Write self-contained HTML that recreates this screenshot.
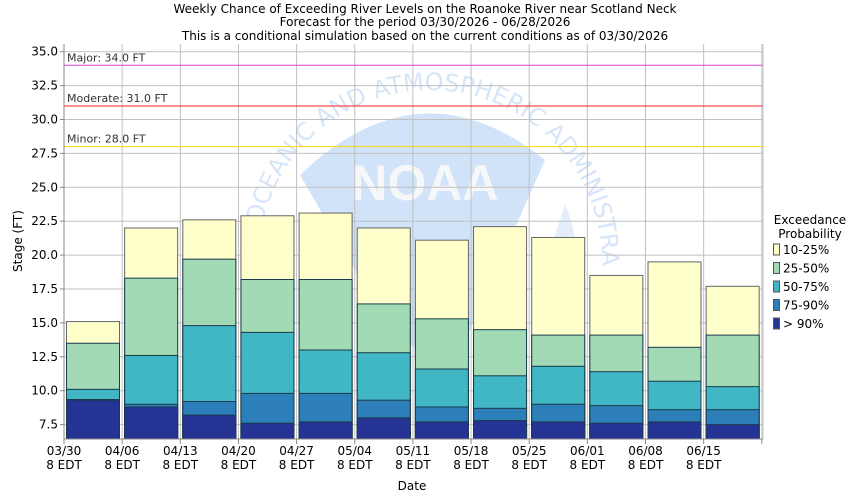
<!DOCTYPE html>
<html><head><style>body{margin:0;background:#fff}svg{display:block;font-family:"DejaVu Sans","Liberation Sans",sans-serif}</style></head>
<body>
<svg id="s" width="850" height="500" xmlns="http://www.w3.org/2000/svg">
<rect width="850" height="500" fill="#fff"/>
<g font-size="12" text-anchor="middle" fill="#000">
<text x="425" y="13">Weekly Chance of Exceeding River Levels on the Roanoke River near Scotland Neck</text>
<text x="425" y="26">Forecast for the period 03/30/2026 - 06/28/2026</text>
<text x="425" y="40">This is a conditional simulation based on the current conditions as of 03/30/2026</text>
</g>
<defs><clipPath id="c"><rect x="64" y="44" width="699" height="395"/></clipPath></defs>
<g clip-path="url(#c)">
<path d="M300,175 Q420,60 545,160 L470,330 Q430,370 390,330 Z" fill="#d0e3f8"/>
<path d="M540,280 L565,205 Q590,260 560,330 Z" fill="#e3eefa"/>
<text x="425" y="200" font-size="50" font-weight="bold" fill="#f6f7f9" text-anchor="middle" font-family="Liberation Sans,sans-serif">NOAA</text>
<path id="arc" d="M258,262 A172,172 0 0 1 602,262" fill="none"/>
<text font-size="24" fill="#d6e6f8"><textPath href="#arc">AL OCEANIC AND ATMOSPHERIC ADMINISTRATION</textPath></text>
</g>
<g id="grid" stroke="#c0c0c0" stroke-width="1"></g>
<g id="bars"></g>
<g id="axes"></g>
</svg>
<script>
var s=document.getElementById('s'),NS='http://www.w3.org/2000/svg';
function Y(v){return 51.7+(35-v)*13.56}
function el(p,t,a,txt){var e=document.createElementNS(NS,t);for(var k in a)e.setAttribute(k,a[k]);if(txt)e.textContent=txt;p.appendChild(e);return e}
var g=document.getElementById('grid'),b=document.getElementById('bars'),ax=document.getElementById('axes');
for(var v=7.5;v<=35;v+=2.5){var y=Y(v);el(g,'line',{x1:64,x2:763,y1:y,y2:y});el(ax,'line',{x1:60,x2:64,y1:y,y2:y,stroke:'#888'});el(ax,'text',{x:58,y:y+4,'text-anchor':'end','font-size':12},v.toFixed(1))}
var dates=['03/30','04/06','04/13','04/20','04/27','05/04','05/11','05/18','05/25','06/01','06/08','06/15'];
for(var i=0;i<=12;i++){var x=64+i*58.15;el(g,'line',{x1:x,x2:x,y1:44,y2:439});el(ax,'line',{x1:x,x2:x,y1:439,y2:444,stroke:'#888'});
if(i<12){el(ax,'text',{x:x,y:455,'text-anchor':'middle','font-size':12},dates[i]);el(ax,'text',{x:x,y:469,'text-anchor':'middle','font-size':12},'8 EDT')}}
var lines=[[34,'#dd44dd','Major: 34.0 FT'],[31,'#ff2020','Moderate: 31.0 FT'],[28,'#ffd700','Minor: 28.0 FT']];
lines.forEach(function(l){var y=Y(l[0]);el(g,'line',{x1:64,x2:763,y1:y,y2:y,stroke:l[1]});el(ax,'text',{x:67,y:y-4,'font-size':11,fill:'#333'},l[2])});
var cols=['#253494','#2c7fb8','#41b6c4','#a1dab4','#ffffcc'];
var d=[[9.3,9.35,10.1,13.5,15.1],[8.8,9.0,12.6,18.3,22.0],[8.2,9.2,14.8,19.7,22.6],[7.6,9.8,14.3,18.2,22.9],[7.7,9.8,13.0,18.2,23.1],[8.0,9.3,12.8,16.4,22.0],[7.7,8.8,11.6,15.3,21.1],[7.8,8.7,11.1,14.5,22.1],[7.7,9.0,11.8,14.1,21.3],[7.6,8.9,11.4,14.1,18.5],[7.7,8.6,10.7,13.2,19.5],[7.5,8.6,10.3,14.1,17.7]];
d.forEach(function(r,i){var x=66.5+i*58.15,w=53;
for(var j=4;j>=0;j--){var yt=Y(r[j]);el(b,'rect',{x:x,y:yt,width:w,height:439-yt,fill:cols[j],stroke:j==4?'#666':'#1a3a4a','stroke-width':1})}});
el(ax,'line',{x1:64,x2:64,y1:44,y2:439,stroke:'#888'});el(ax,'line',{x1:64,x2:763,y1:439,y2:439,stroke:'#888'});el(ax,'line',{x1:763,x2:763,y1:44,y2:439,stroke:'#c0c0c0'});
el(ax,'text',{x:412,y:490,'text-anchor':'middle','font-size':12},'Date');
el(ax,'text',{x:22,y:241,'text-anchor':'middle','font-size':12,transform:'rotate(-90 22 241)'},'Stage (FT)');
el(ax,'text',{x:810,y:224,'text-anchor':'middle','font-size':12},'Exceedance');
el(ax,'text',{x:810,y:238,'text-anchor':'middle','font-size':12},'Probability');
var lab=['10-25%','25-50%','50-75%','75-90%','> 90%'];
for(var k=0;k<5;k++){var yy=244+k*18.5;el(ax,'rect',{x:773.5,y:yy,width:6,height:11,fill:cols[4-k],stroke:'#555'});el(ax,'text',{x:783,y:yy+10,'font-size':12},lab[k])}
</script>
</body></html>
